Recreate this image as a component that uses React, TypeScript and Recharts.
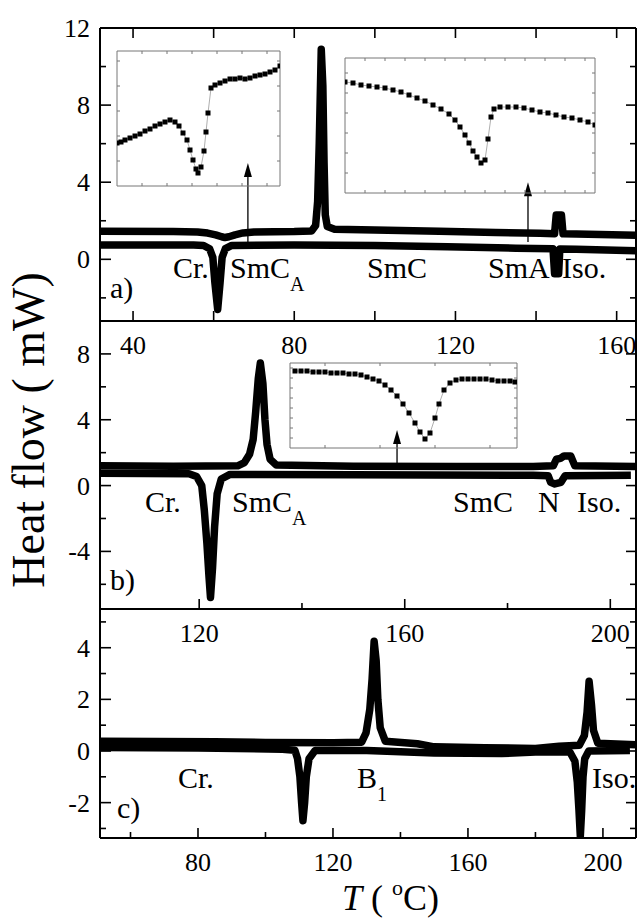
import React from 'react';
import { LineChart, Line, XAxis, YAxis, ReferenceLine } from 'recharts';

type Pair = [number, number];

const W = 639;
const H = 924;
const FONT = '"Liberation Serif", "Times New Roman", serif';

// ---- a) heating / cooling traces (T in C, heat flow in mW)
const aUpper: Pair[] = [
  [31.8, 1.45], [50, 1.44], [56, 1.42], [58.5, 1.36], [60.5, 1.27], [62, 1.17], [62.8, 1.13],
  [63.8, 1.17], [65.3, 1.27], [67.3, 1.37], [70, 1.42], [80, 1.44], [84.3, 1.47], [85.3, 1.75],
  [85.8, 3], [86.2, 6], [86.7, 10.9], [87.1, 9], [87.4, 5], [87.7, 2.3], [88.2, 1.7], [90, 1.56],
  [100, 1.52], [116, 1.45], [130, 1.39], [141, 1.35], [144.6, 1.33], [145.0, 2.3], [146.3, 2.3],
  [146.7, 1.32], [150, 1.31], [164.8, 1.25],
];
const aLower: Pair[] = [
  [31.8, 0.74], [55, 0.74], [57.5, 0.72], [59, 0.55], [59.8, 0.1], [60.3, -1.2], [61.0, -2.6],
  [61.6, -1.2], [62.1, 0.1], [62.9, 0.55], [64.5, 0.72], [80, 0.74], [100, 0.72], [118, 0.65],
  [135, 0.58], [144.2, 0.55], [144.6, -0.75], [145.6, -0.75], [145.9, 0.54], [150, 0.52], [164.8, 0.44],
];

// ---- b)
const bUpper: Pair[] = [
  [100.7, 1.2], [115, 1.18], [127.5, 1.2], [128.8, 1.4], [129.8, 1.9], [130.5, 2.8], [131.0, 4.5],
  [131.5, 6.5], [131.9, 7.45], [132.4, 6.2], [132.8, 4], [133.2, 2.5], [133.8, 1.6], [135, 1.25],
  [150, 1.17], [170, 1.16], [185, 1.16], [188.9, 1.2], [189.5, 1.6], [190.3, 1.65], [191, 1.8],
  [192.3, 1.8], [193.1, 1.2], [205, 1.16],
];
const bLower: Pair[] = [
  [100.7, 0.75], [118, 0.72], [119.5, 0.55], [120.5, 0], [121.0, -1.5], [121.5, -3.5], [121.9, -5.5],
  [122.2, -6.8], [122.6, -5], [123.0, -2.5], [123.5, -0.5], [124.3, 0.4], [126, 0.68], [150, 0.66],
  [185, 0.62], [187.9, 0.6], [188.4, 0.2], [189.2, 0.1], [190.4, 0.2], [191.2, 0.6], [204, 0.62],
];

// ---- c)
const cUpper: Pair[] = [
  [51, 0.38], [85, 0.36], [100, 0.33], [120, 0.32], [128.5, 0.34], [129.8, 0.7], [130.9, 1.6],
  [131.6, 2.8], [132.2, 4.25], [132.8, 3.5], [133.3, 2], [134.0, 0.9], [135.5, 0.38], [145, 0.28],
  [150, 0.16], [165, 0.13], [180, 0.1], [187, 0.18], [193, 0.22], [194.5, 0.6], [195.3, 1.5],
  [195.9, 2.7], [196.6, 1.8], [197.2, 0.8], [198.5, 0.3], [209.8, 0.24],
];
const cLower: Pair[] = [
  [51, 0.14], [80, 0.12], [105, 0.07], [108.7, 0.03], [109.5, -0.3], [110.2, -1.0], [110.7, -2],
  [111.1, -2.7], [111.6, -2], [112.1, -1], [112.9, -0.3], [114.7, 0.02], [130, 0.02], [150, -0.08],
  [170, -0.1], [180, -0.04], [190.2, -0.04], [191.7, -0.4], [192.4, -1.2], [192.9, -2.3],
  [193.3, -3.3], [193.7, -2.3], [194.1, -1], [194.6, -0.3], [195.8, 0], [208, 0.02],
];

// ---- insets
const insetA1: Pair[] = [
  [55.0, 1.172], [55.4, 1.176], [55.8, 1.184], [56.3, 1.192], [56.8, 1.2], [57.3, 1.208],
  [57.8, 1.22], [58.3, 1.228], [58.8, 1.24], [59.3, 1.248], [59.8, 1.256], [60.3, 1.264],
  [60.8, 1.256], [61.2, 1.24], [61.6, 1.212], [62.0, 1.184], [62.3, 1.144], [62.6, 1.104],
  [62.9, 1.068], [63.1, 1.052], [63.4, 1.076], [63.7, 1.14], [63.9, 1.216], [64.1, 1.292],
  [64.4, 1.392], [64.8, 1.404], [65.3, 1.412], [65.8, 1.42], [66.3, 1.428], [66.8, 1.428],
  [67.3, 1.432], [67.8, 1.428], [68.3, 1.432], [68.8, 1.44], [69.3, 1.444], [69.8, 1.448],
  [70.3, 1.456], [70.8, 1.464], [71.3, 1.48],
];
const insetA2: Pair[] = [
  [120.0, 0.844], [120.8, 0.84], [121.6, 0.832], [122.4, 0.828], [123.2, 0.824], [124.0, 0.82],
  [124.8, 0.812], [125.6, 0.804], [126.4, 0.792], [127.2, 0.78], [128.0, 0.768], [128.8, 0.752],
  [129.6, 0.736], [130.4, 0.716], [131.0, 0.692], [131.5, 0.664], [132.0, 0.632], [132.4, 0.6],
  [132.8, 0.568], [133.2, 0.544], [133.6, 0.52], [134.0, 0.532], [134.3, 0.616], [134.6, 0.704],
  [134.9, 0.736], [135.5, 0.744], [136.3, 0.744], [137.1, 0.744], [137.9, 0.74], [138.7, 0.732],
  [139.5, 0.724], [140.3, 0.72], [141.1, 0.712], [141.9, 0.704], [142.7, 0.7], [143.5, 0.692],
  [144.3, 0.684], [145.0, 0.672],
];
const insetB: Pair[] = [
  [150.5, 0.608], [151.1, 0.608], [151.7, 0.608], [152.3, 0.604], [152.9, 0.604], [153.5, 0.604],
  [154.1, 0.6], [154.7, 0.6], [155.3, 0.6], [155.9, 0.596], [156.5, 0.596], [157.1, 0.592],
  [157.7, 0.584], [158.3, 0.576], [158.9, 0.568], [159.5, 0.552], [160.1, 0.532], [160.7, 0.508],
  [161.3, 0.476], [161.9, 0.44], [162.5, 0.4], [163.0, 0.364], [163.5, 0.336], [164.0, 0.36],
  [164.5, 0.42], [164.9, 0.476], [165.4, 0.532], [166.0, 0.56], [166.6, 0.572], [167.2, 0.576],
  [167.8, 0.576], [168.4, 0.576], [169.0, 0.576], [169.6, 0.576], [170.2, 0.572], [170.8, 0.568],
  [171.4, 0.568], [172.0, 0.568], [172.5, 0.564],
];

const pts = (arr: Pair[]) => arr.map(([t, v]) => ({ t, v }));

const AXIS = { stroke: '#000', strokeWidth: 2 };
const TICK_TXT = 26;

const has = (list: number[], v: number) => list.some((l) => Math.abs(l - v) < 1e-6);

const bottomTick = (labels: number[], longAll: boolean) => (p: any) => {
  const major = longAll || has(labels, p.payload.value);
  return (
    <g>
      <line x1={p.x} x2={p.x} y1={p.y} y2={p.y - (major ? 10 : 6)} stroke="#000" strokeWidth={1.6} />
      {has(labels, p.payload.value) && (
        <text x={p.x} y={p.y + 33} textAnchor="middle" fontSize={TICK_TXT} fontFamily={FONT} fill="#000">
          {p.payload.value}
        </text>
      )}
    </g>
  );
};
const topTick = (p: any) => (
  <line x1={p.x} x2={p.x} y1={p.y} y2={p.y + 10} stroke="#000" strokeWidth={1.6} />
);
const leftTick = (labels: number[]) => (p: any) => {
  const major = has(labels, p.payload.value);
  return (
    <g>
      <line x1={p.x} x2={p.x + (major ? 11 : 6)} y1={p.y} y2={p.y} stroke="#000" strokeWidth={1.6} />
      {major && (
        <text x={p.x - 10} y={p.y + 9} textAnchor="end" fontSize={TICK_TXT} fontFamily={FONT} fill="#000">
          {p.payload.value}
        </text>
      )}
    </g>
  );
};
const rightTick = (labels: number[]) => (p: any) => {
  const major = has(labels, p.payload.value);
  return <line x1={p.x} x2={p.x - (major ? 10 : 6)} y1={p.y} y2={p.y} stroke="#000" strokeWidth={1.6} />;
};

const arrowShape = (p: any) => {
  const { x1, y1, x2, y2 } = p;
  return (
    <g>
      <line x1={x1} y1={y1} x2={x2} y2={y2 + 12} stroke="#000" strokeWidth={1.3} />
      <polygon points={`${x2},${y2} ${x2 - 4},${y2 + 14} ${x2 + 4},${y2 + 14}`} fill="#000" />
    </g>
  );
};

interface Arrow { t: number; from: number; to: number }
interface PanelProps {
  top: number;
  bottom: number;
  xDomain: [number, number];
  yDomain: [number, number];
  xTicks: number[];
  xLabels: number[];
  yTicks: number[];
  yLabels: number[];
  topTicks: boolean;
  longAll: boolean;
  series: Pair[][];
  arrows: Arrow[];
}

const Panel = (pp: PanelProps) => (
  <div style={{ position: 'absolute', left: 0, top: 0 }}>
    <LineChart
      width={W}
      height={H}
      margin={{ top: pp.top - 10, bottom: H - pp.bottom - 20, left: 80, right: 0 }}
    >
      <XAxis
        xAxisId="b"
        type="number"
        dataKey="t"
        domain={pp.xDomain}
        allowDataOverflow
        ticks={pp.xTicks}
        interval={0}
        height={20}
        tickSize={0}
        tickMargin={0}
        tickLine={false}
        axisLine={AXIS}
        tick={bottomTick(pp.xLabels, pp.longAll)}
      />
      <XAxis
        xAxisId="t"
        orientation="top"
        type="number"
        dataKey="t"
        domain={pp.xDomain}
        allowDataOverflow
        ticks={pp.xTicks}
        interval={0}
        height={10}
        tickSize={0}
        tickMargin={0}
        tickLine={false}
        axisLine={AXIS}
        tick={pp.topTicks ? topTick : false}
      />
      <YAxis
        yAxisId="l"
        type="number"
        domain={pp.yDomain}
        allowDataOverflow
        ticks={pp.yTicks}
        interval={0}
        width={20}
        tickSize={0}
        tickMargin={0}
        tickLine={false}
        axisLine={AXIS}
        tick={leftTick(pp.yLabels)}
      />
      <YAxis
        yAxisId="r"
        orientation="right"
        type="number"
        domain={pp.yDomain}
        allowDataOverflow
        ticks={pp.yTicks}
        interval={0}
        width={3}
        tickSize={0}
        tickMargin={0}
        tickLine={false}
        axisLine={AXIS}
        tick={rightTick(pp.yLabels)}
      />
      {pp.series.map((s, i) => (
        <Line
          key={i}
          xAxisId="b"
          yAxisId="l"
          data={pts(s)}
          dataKey="v"
          type="linear"
          stroke="#000"
          strokeWidth={7.5}
          strokeLinejoin="round"
          dot={false}
          isAnimationActive={false}
        />
      ))}
      {pp.arrows.map((a, i) => (
        <ReferenceLine
          key={`ar${i}`}
          xAxisId="b"
          yAxisId="l"
          segment={[{ x: a.t, y: a.from }, { x: a.t, y: a.to }]}
          shape={arrowShape}
        />
      ))}
    </LineChart>
  </div>
);

const insetTick = (side: 'b' | 't' | 'l' | 'r') => (p: any) => {
  const d = 3;
  const c = '#777';
  if (side === 'b') return <line x1={p.x} x2={p.x} y1={p.y} y2={p.y - d} stroke={c} />;
  if (side === 't') return <line x1={p.x} x2={p.x} y1={p.y} y2={p.y + d} stroke={c} />;
  if (side === 'l') return <line x1={p.x} x2={p.x + d} y1={p.y} y2={p.y} stroke={c} />;
  return <line x1={p.x} x2={p.x - d} y1={p.y} y2={p.y} stroke={c} />;
};

const squareDot = (p: any) => (
  <rect key={`d${p.index}`} x={p.cx - 2.5} y={p.cy - 2.5} width={5} height={5} fill="#000" />
);

interface InsetProps {
  left: number;
  top: number;
  width: number;
  height: number;
  data: Pair[];
  xDomain: [number, number];
  yDomain: [number, number];
  xTicks: number[];
  yTicks: number[];
}

const Inset = (ip: InsetProps) => {
  const IAX = { stroke: '#777', strokeWidth: 1 };
  const common = { allowDataOverflow: true, interval: 0 as const, tickSize: 0, tickMargin: 0, tickLine: false, axisLine: IAX };
  return (
    <div style={{ position: 'absolute', left: ip.left - 4, top: ip.top - 4 }}>
      <LineChart width={ip.width + 8} height={ip.height + 8} margin={{ top: 3, right: 3, bottom: 3, left: 3 }}>
        <XAxis xAxisId="b" type="number" dataKey="t" domain={ip.xDomain} ticks={ip.xTicks} height={1} tick={insetTick('b')} {...common} />
        <XAxis xAxisId="t" orientation="top" type="number" dataKey="t" domain={ip.xDomain} ticks={ip.xTicks} height={1} tick={insetTick('t')} {...common} />
        <YAxis yAxisId="l" type="number" domain={ip.yDomain} ticks={ip.yTicks} width={1} tick={insetTick('l')} {...common} />
        <YAxis yAxisId="r" orientation="right" type="number" domain={ip.yDomain} ticks={ip.yTicks} width={1} tick={insetTick('r')} {...common} />
        <Line
          xAxisId="b"
          yAxisId="l"
          data={pts(ip.data)}
          dataKey="v"
          type="linear"
          stroke="#999"
          strokeWidth={0.8}
          dot={squareDot}
          isAnimationActive={false}
        />
      </LineChart>
    </div>
  );
};

const T = (props: { x: number; y: number; size?: number; children: React.ReactNode }) => (
  <text x={props.x} y={props.y} fontSize={props.size ?? 30} fontFamily={FONT} fill="#000">
    {props.children}
  </text>
);

const Phase = ({ x, y, main, sub }: { x: number; y: number; main: string; sub: string }) => (
  <text x={x} y={y} fontSize={30} fontFamily={FONT} fill="#000">
    {main}
    <tspan fontSize={20} dy={13}>{sub}</tspan>
  </text>
);

export default function App() {
  return (
    <div style={{ position: 'absolute', left: 0, top: 0, width: W, height: H, background: '#fff' }}>
      <Panel
        top={28}
        bottom={321}
        xDomain={[31.8, 164.8]}
        yDomain={[-3.2, 12]}
        xTicks={[40, 60, 80, 100, 120, 140, 160]}
        xLabels={[40, 80, 120, 160]}
        yTicks={[-2, 0, 2, 4, 6, 8, 10, 12]}
        yLabels={[0, 4, 8, 12]}
        topTicks
        longAll
        series={[aUpper, aLower]}
        arrows={[{ t: 68.5, from: 0.85, to: 5.0 }, { t: 138.0, from: 0.9, to: 4.0 }]}
      />
      <Panel
        top={321}
        bottom={609}
        xDomain={[100.7, 205]}
        yDomain={[-7.5, 10]}
        xTicks={[120, 140, 160, 180, 200]}
        xLabels={[120, 160, 200]}
        yTicks={[-6, -4, -2, 0, 2, 4, 6, 8]}
        yLabels={[-4, 0, 4, 8]}
        topTicks={false}
        longAll={false}
        series={[bUpper, bLower]}
        arrows={[{ t: 158.5, from: 1.37, to: 3.38 }]}
      />
      <Panel
        top={609}
        bottom={838}
        xDomain={[50.96, 209.8]}
        yDomain={[-3.37, 5.5]}
        xTicks={[60, 80, 100, 120, 140, 160, 180, 200]}
        xLabels={[80, 120, 160, 200]}
        yTicks={[-3, -2, -1, 0, 1, 2, 3, 4, 5]}
        yLabels={[-2, 0, 2, 4]}
        topTicks={false}
        longAll={false}
        series={[cUpper, cLower]}
        arrows={[]}
      />
      <Inset
        left={117} top={51} width={163} height={135}
        data={insetA1}
        xDomain={[55, 71.3]} yDomain={[1.0, 1.54]}
        xTicks={[57.5, 60, 62.5, 65, 67.5, 70]}
        yTicks={[1.1, 1.2, 1.3, 1.4, 1.5]}
      />
      <Inset
        left={345} top={58} width={250} height={135}
        data={insetA2}
        xDomain={[120, 145]} yDomain={[0.4, 0.94]}
        xTicks={[122, 124, 126, 128, 130, 132, 134, 136, 138, 140, 142, 144]}
        yTicks={[0.48, 0.56, 0.64, 0.72, 0.8, 0.88]}
      />
      <Inset
        left={290} top={363} width={227} height={85}
        data={insetB}
        xDomain={[150, 172.7]} yDomain={[0.3, 0.64]}
        xTicks={[153.5, 159, 164.5, 170]}
        yTicks={[0.34, 0.38, 0.42, 0.46, 0.5, 0.54, 0.58, 0.62]}
      />
      <svg width={W} height={H} style={{ position: 'absolute', left: 0, top: 0, pointerEvents: 'none' }}>
        {/* a) */}
        <T x={173} y={278}>Cr.</T>
        <Phase x={230} y={278} main="SmC" sub="A" />
        <T x={367} y={278}>SmC</T>
        <T x={488} y={278}>SmA</T>
        <T x={562} y={278}>Iso.</T>
        <T x={110} y={298}>a)</T>
        {/* b) */}
        <T x={145} y={512}>Cr.</T>
        <Phase x={232} y={512} main="SmC" sub="A" />
        <T x={453} y={512}>SmC</T>
        <T x={538} y={512}>N</T>
        <T x={577} y={512}>Iso.</T>
        <T x={110} y={590}>b)</T>
        {/* c) */}
        <T x={178} y={788}>Cr.</T>
        <Phase x={357} y={788} main="B" sub="1" />
        <T x={592} y={788}>Iso.</T>
        <T x={117} y={818}>c)</T>
        {/* axis titles */}
        <text x={342} y={910} fontSize={36} fontFamily={FONT} fill="#000">
          <tspan fontStyle="italic">T</tspan>
          <tspan> ( </tspan>
          <tspan fontSize={22} dy={-15}>o</tspan>
          <tspan dy={15}>C)</tspan>
        </text>
        <text
          transform="translate(44,430) rotate(-90)"
          textAnchor="middle"
          fontSize={46}
          fontFamily={FONT}
          fill="#000"
        >
          Heat flow ( mW)
        </text>
      </svg>
    </div>
  );
}
